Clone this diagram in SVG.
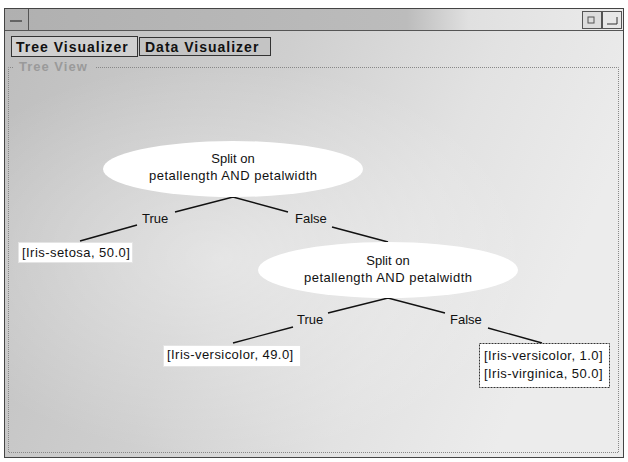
<svg xmlns="http://www.w3.org/2000/svg" width="628" height="462" viewBox="0 0 628 462">
<defs>
<linearGradient id="bg" x1="0" y1="0" x2="1" y2="0.3">
<stop offset="0" stop-color="#bdbdbd"/>
<stop offset="0.45" stop-color="#cfcfcf"/>
<stop offset="0.75" stop-color="#e2e2e2"/>
<stop offset="1" stop-color="#ececec"/>
</linearGradient>
<radialGradient id="blob" cx="0.35" cy="0.5" r="0.5">
<stop offset="0" stop-color="#ffffff" stop-opacity="0.45"/>
<stop offset="1" stop-color="#ffffff" stop-opacity="0"/>
</radialGradient>
<linearGradient id="title" x1="0" y1="0" x2="1" y2="0">
<stop offset="0" stop-color="#b0b0b0"/>
<stop offset="0.65" stop-color="#bcbcbc"/>
<stop offset="0.75" stop-color="#e0e0e0"/>
<stop offset="1" stop-color="#ebebeb"/>
</linearGradient>
<style>
.t{font-family:"Liberation Sans",Arial,sans-serif;font-size:13px;fill:#111}
.lt{font-family:"Liberation Sans",Arial,sans-serif;font-size:13px;letter-spacing:0.45px;fill:#111}
.tab{font-family:"Liberation Sans",Arial,sans-serif;font-size:14px;font-weight:bold;letter-spacing:1px;fill:#111}
.edge{stroke:#111;stroke-width:1.4;fill:none}
.leaf{fill:#fff;stroke:#e4e4e4;stroke-width:1}
.node{fill:#fff;stroke:none}
</style>
</defs>
<rect width="628" height="462" fill="#fff"/>
<g id="window">
<rect x="4.5" y="8.5" width="619" height="449" fill="url(#bg)" stroke="#444"/>
<rect x="5" y="60" width="618" height="397" fill="url(#blob)"/>
<rect x="5" y="9" width="618" height="21" fill="url(#title)"/>
<line x1="5" y1="30.5" x2="623" y2="30.5" stroke="#555"/>
<line x1="28.5" y1="9" x2="28.5" y2="30" stroke="#555"/>
<line x1="10" y1="21" x2="22" y2="21" stroke="#333" stroke-width="1.2"/>
<rect x="582.5" y="11.5" width="19" height="17" fill="#ddd" stroke="#555"/>
<rect x="602.5" y="11.5" width="19" height="17" fill="#e8e8e8" stroke="#555"/>
<rect x="588" y="17" width="6" height="6" fill="none" stroke="#555"/>
<path d="M607 24 H617 V17" fill="none" stroke="#333"/>
</g>
<g id="tabs">
<rect x="11.5" y="36.5" width="126" height="20" fill="#d0d0d0" stroke="#333"/>
<rect x="139.5" y="37.5" width="131" height="18" fill="#c4c4c4" stroke="#333"/>
<text class="tab" x="16" y="52">Tree Visualizer</text>
<text class="tab" x="145" y="52">Data Visualizer</text>
</g>
<g id="treeview">
<path d="M96 67.5 H618.5 V452.5 H8.5 V67.5 H14" fill="none" stroke="#888" stroke-dasharray="1 1"/>
<text x="19" y="71" font-family="Liberation Sans, Arial, sans-serif" font-size="13" font-weight="bold" letter-spacing="1" fill="#9a9a9a">Tree View</text>
</g>
<g id="connectors">
<polyline class="edge" points="175,212 233,197 288,212"/>
<line class="edge" x1="137" y1="225" x2="80" y2="241"/>
<line class="edge" x1="332" y1="227" x2="388" y2="242"/>
<polyline class="edge" points="328,313 388,298 445,313"/>
<line class="edge" x1="293" y1="327" x2="233" y2="343"/>
<line class="edge" x1="488" y1="328" x2="542" y2="343"/>
<text class="t" x="142" y="223">True</text>
<text class="t" x="295" y="223">False</text>
<text class="t" x="297" y="324">True</text>
<text class="t" x="450" y="324">False</text>
</g>
<g id="node1">
<ellipse class="node" cx="233" cy="169" rx="130" ry="28"/>
<text class="t" x="233" y="163" text-anchor="middle">Split on</text>
<text class="t" x="233" y="180" text-anchor="middle" textLength="168">petallength AND petalwidth</text>
</g>
<g id="node2">
<ellipse class="node" cx="388" cy="270" rx="130" ry="28"/>
<text class="t" x="388" y="265" text-anchor="middle">Split on</text>
<text class="t" x="388" y="282" text-anchor="middle" textLength="168">petallength AND petalwidth</text>
</g>
<g id="leaf1">
<rect class="leaf" x="18.5" y="242.5" width="114" height="20"/>
<text class="lt" x="22" y="257">[Iris-setosa, 50.0]</text>
</g>
<g id="leaf2">
<rect class="leaf" x="163.5" y="345.5" width="137" height="21"/>
<text class="lt" x="167" y="359">[Iris-versicolor, 49.0]</text>
</g>
<g id="leaf3">
<rect x="479.5" y="343.5" width="130" height="44" fill="#fff" stroke="#333" stroke-dasharray="2 1"/>
<text class="lt" x="484" y="360">[Iris-versicolor, 1.0]</text>
<text class="lt" x="484" y="378">[Iris-virginica, 50.0]</text>
</g>
</svg>
